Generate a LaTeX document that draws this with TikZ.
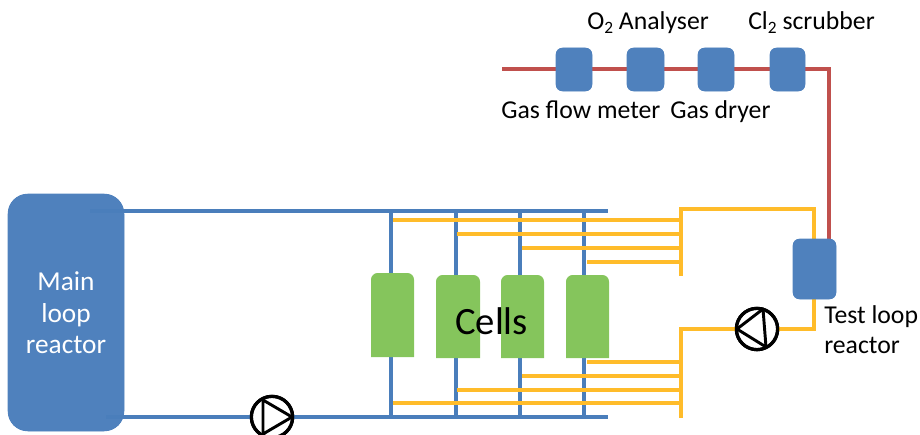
\documentclass[tikz,border=0pt]{standalone}
\usepackage{fontspec}
\setmainfont{Carlito}
\definecolor{boxblue}{HTML}{4F81BD}
\definecolor{pipeblue}{HTML}{4A7EBB}
\definecolor{pipeyellow}{HTML}{FFBC2A}
\definecolor{pipered}{HTML}{C0504D}
\definecolor{cellgreen}{HTML}{85C55C}
\newcommand{\subtwo}{\raisebox{-0.28ex}{\fontsize{13}{14}\selectfont 2}}
\tikzset{
  x=0.75pt,y=-0.75pt,
  vessel/.style={fill=boxblue,draw=none,rectangle,rounded corners=5pt,inner sep=0pt,minimum width=#1*0.75pt},
  bluepipe/.style={draw=pipeblue,line width=3pt},
  yellowpipe/.style={draw=pipeyellow,line width=3pt},
  redpipe/.style={draw=pipered,line width=3pt},
  pumpring/.style={circle,draw=black,line width=2.4pt,fill=none,minimum size=31pt,inner sep=0pt},
  pumptri/.style={draw=black,line width=2.2pt,line join=round},
  cellshape/.style={fill=cellgreen,draw=none},
  lbl/.style={inner sep=0pt,font=\fontsize{19.3}{22}\selectfont,text=black},
}
\begin{document}
\begin{tikzpicture}
\useasboundingbox (0,0) rectangle (920,435);
\clip (0,0) rectangle (920,435);

% named nodes (positions)
\node[vessel=116,minimum height=237*0.75pt,rounded corners=15pt] (main) at (66,312.5) {};
\node[vessel=36,minimum height=43*0.75pt] (flow) at (574,69.5) {};
\node[vessel=37,minimum height=43*0.75pt] (o2) at (645.5,69.5) {};
\node[vessel=36,minimum height=43*0.75pt] (dryer) at (716,69.5) {};
\node[vessel=35,minimum height=43*0.75pt] (scrub) at (787.5,69.5) {};
\node[vessel=43,minimum height=60*0.75pt] (test) at (814.5,269) {};
\node[pumpring] (pumpA) at (272,417) {};
\node[pumpring] (pumpB) at (757,329) {};

% coordinates
\coordinate (rs) at (502,69);
\coordinate (rc) at (829,69);
\coordinate (re) at (829,240);
\coordinate (mt) at (90,211);
\coordinate (mte) at (608,211);
\coordinate (mb) at (106,417);
\coordinate (mbe) at (608,417);
\foreach \n/\x in {a/391,b/456,c/520,d/584}{
  \coordinate (t\n) at (\x,211);
  \coordinate (b\n) at (\x,417);
}
\coordinate (ytt) at (681,209);
\coordinate (ytb) at (681,276);
\coordinate (ytr) at (814,209);
\coordinate (ytd) at (814,240);
\coordinate (ybt) at (681,329);
\coordinate (ybb) at (681,418);
\coordinate (ybr) at (814,329);
\coordinate (ybu) at (814,298);

% red pipe
\draw[redpipe] (rs) -- (rc) -- (re);

% blue pipes
\draw[bluepipe] (mt) -- (mte);
\draw[bluepipe] (mb) -- (pumpA.west);
\draw[bluepipe] (pumpA.east) -- (mbe);
\foreach \n in {a,b,c,d}{ \draw[bluepipe] (t\n) -- (b\n); }

% yellow branches
\foreach \x/\y in {393/220,457/234,522/248,587/262,587/362,522/376,457/390,393/403}{
  \draw[yellowpipe] (\x,\y) -- (681,\y);
}
\draw[yellowpipe] (ytb) -- (ytt) -- (ytr) -- (ytd);
\draw[yellowpipe] (ybb) -- (ybt) -- (pumpB.west);
\draw[yellowpipe] (pumpB.east) -- (ybr) -- (ybu);

% vessels on top of their pipes
\fill[boxblue,rounded corners=15pt] (main.south west) rectangle (main.north east);
\draw[bluepipe] (mt) -- (main.east |- mt);
\draw[bluepipe] (mb) -- (main.east |- mb);
\foreach \v in {flow,o2,dryer,scrub,test}{
  \fill[boxblue,rounded corners=5pt] (\v.south west) rectangle (\v.north east);
}

% cells
\foreach \l/\r/\t/\b in {371/414/273/357,436/480/275/358,501/544/275/358,566/609/275/358}{
  \fill[cellshape] (\l,\b) [rounded corners=5pt] -- (\l,\t) -- (\r,\t) [sharp corners] -- (\r,\b) -- cycle;
}

% pumps
\node[pumpring] at (pumpA) {};
\draw[pumptri] (263,400) -- (292,417) -- (263,434) -- cycle;
\node[pumpring] at (pumpB) {};
\draw[pumptri] (737,329) -- (763,309) -- (766,347) -- cycle;

% labels
\node[lbl,anchor=base,text=white,font=\fontsize{20.5}{24}\selectfont] (tmain1) at (66,290) {Main};
\node[lbl,anchor=base,text=white,font=\fontsize{20.5}{24}\selectfont] (tmain2) at (66,322) {loop};
\node[lbl,anchor=base,text=white,font=\fontsize{20.5}{24}\selectfont] (tmain3) at (66,353) {reactor};
\node[lbl,anchor=base west] (to2) at (587,30) {O\subtwo{} Analyser};
\node[lbl,anchor=base west] (tcl) at (748,30) {Cl\subtwo{} scrubber};
\node[lbl,anchor=base west] (tflow) at (501,118) {Gas flow meter};
\node[lbl,anchor=base west] (tdry) at (670,118) {Gas dryer};
\node[lbl,anchor=base west] (ttest) at (824,323) {Test loop};
\node[lbl,anchor=base west] (treact) at (824,353) {reactor};
\node[inner sep=0pt,anchor=base,font=\fontsize{29}{32}\selectfont] (tcells) at (491.5,334) {Cells};
\end{tikzpicture}
\end{document}
